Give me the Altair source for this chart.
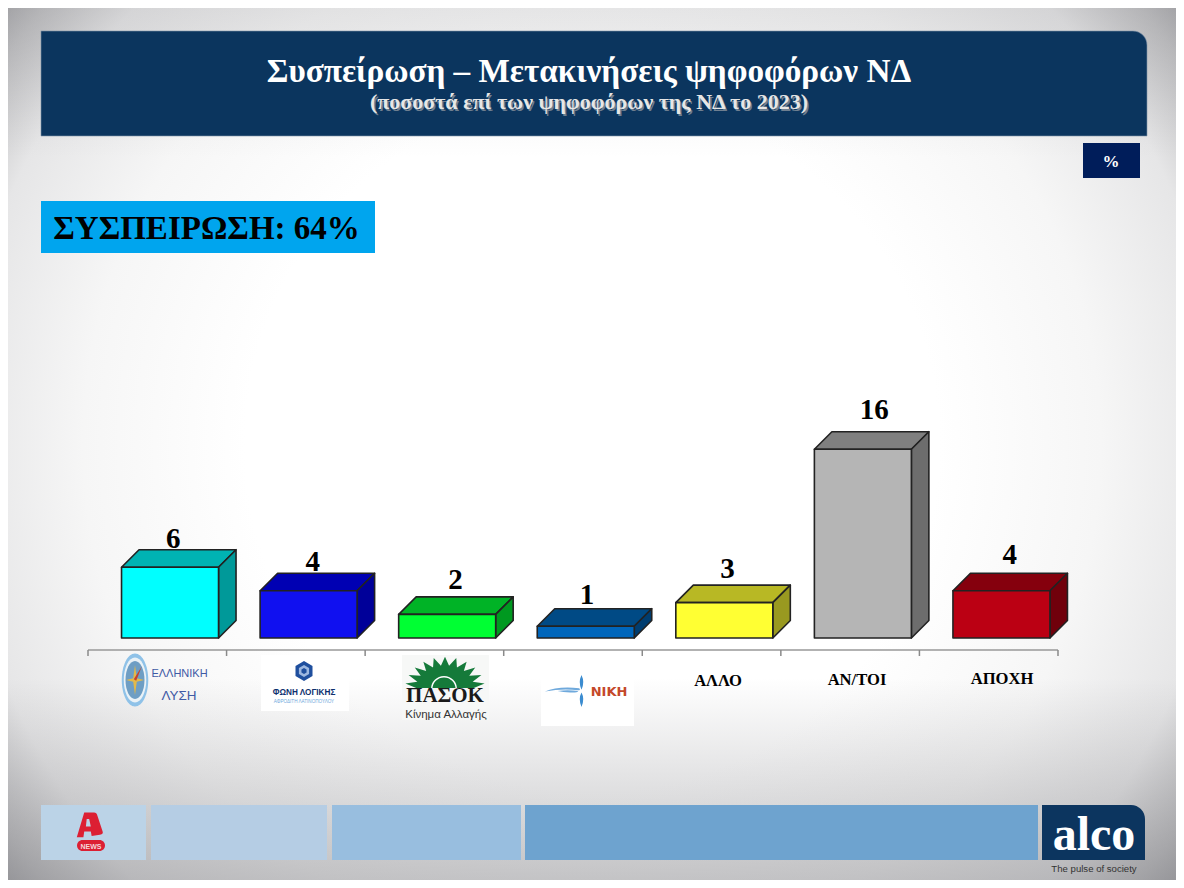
import math
import altair as alt
import pandas as pd

# ---- chart values -----------------------------------------------------
categories = ["ΕΛΛΗΝΙΚΗ ΛΥΣΗ", "ΦΩΝΗ ΛΟΓΙΚΗΣ", "ΠΑΣΟΚ", "ΝΙΚΗ", "ΑΛΛΟ", "ΑΝ/ΤΟΙ", "ΑΠΟΧΗ"]
values = [6, 4, 2, 1, 3, 16, 4]
front_colors = ["#00FFFF", "#1010F0", "#00FF33", "#0066BB", "#FFFF33", "#B5B5B5", "#BB0013"]
top_colors = ["#00B3B3", "#0000B3", "#00B326", "#004A85", "#B8B824", "#7F7F7F", "#85000D"]
side_colors = ["#009999", "#000099", "#009920", "#003D70", "#999920", "#6D6D6D", "#70000B"]
title_text = "Συσπείρωση – Μετακινήσεις ψηφοφόρων ΝΔ"
subtitle_text = "(ποσοστά επί των ψηφοφόρων της ΝΔ το 2023)"
cohesion_text = "ΣΥΣΠΕΙΡΩΣΗ: 64%"

# ---- layout helpers ----------------------------------------------------
W, H = 1168, 872
SLOT = 138.57      # px per category
UNIT = 11.8        # px per percentage point
X0 = 88 - 8        # axis start in chart px
Y0 = 638 - 8       # bar baseline in chart px
BAR_L, BAR_W = 0.242, 0.70
DX, DV = 17.5 / SLOT, 17.5 / UNIT

xscale = alt.Scale(domain=[-X0 / SLOT, (W - X0) / SLOT], range=[0, W], nice=False, zero=False)
yscale = alt.Scale(domain=[(Y0 - H) / UNIT, Y0 / UNIT], range=[H, 0], nice=False, zero=False)
X = lambda f, **k: alt.X(f, type="quantitative", scale=xscale, axis=None, **k)
Y = lambda f, **k: alt.Y(f, type="quantitative", scale=yscale, axis=None, stack=None, **k)

ONE = alt.Data(values=[{"a": 1}])


def box(x1, x2, y1, y2, fill, **mk):
    return alt.Chart(ONE).mark_rect(fill=fill, **mk).encode(
        x=alt.value(x1 - 8), x2=alt.value(x2 - 8), y=alt.value(y1 - 8), y2=alt.value(y2 - 8))


def label(text, x, y, size, color="#000000", font="Liberation Serif", weight="bold", **mk):
    return alt.Chart(ONE).mark_text(text=text, font=font, fontSize=size, fontWeight=weight,
                                    color=color, align=mk.pop("align", "center"),
                                    baseline="alphabetic", **mk).encode(
        x=alt.value(x - 8), y=alt.value(y - 8))


def glyph(path, x, y, d, fill, **mk):
    return alt.Chart(ONE).mark_point(shape=path, size=d * d, filled=True, fill=fill, opacity=1,
                                     strokeWidth=0, **mk).encode(
        x=alt.value(x - 8), y=alt.value(y - 8))


# ---- background ---------------------------------------------------------
bg = alt.Chart(ONE).mark_rect(fill=alt.RadialGradient(
    gradient="radial", x1=0.5, y1=0.5, r1=0.0, x2=0.5, y2=0.5, r2=0.66,
    stops=[alt.GradientStop(color="#FFFFFF", offset=0.0),
           alt.GradientStop(color="#FFFFFF", offset=0.45),
           alt.GradientStop(color="#F6F6F6", offset=0.66),
           alt.GradientStop(color="#E6E6E7", offset=0.82),
           alt.GradientStop(color="#C0C0C2", offset=0.91),
           alt.GradientStop(color="#8E8E92", offset=1.0)])).encode(
    x=alt.value(0), x2=alt.value(W), y=alt.value(0), y2=alt.value(H))
bg_bottom = alt.Chart(ONE).mark_rect(fill=alt.LinearGradient(
    gradient="linear", x1=0, y1=0, x2=0, y2=1,
    stops=[alt.GradientStop(color="rgba(120,120,125,0)", offset=0.0),
           alt.GradientStop(color="rgba(120,120,125,0.42)", offset=1.0)])).encode(
    x=alt.value(0), x2=alt.value(W), y=alt.value(670), y2=alt.value(H))
bg_top = alt.Chart(ONE).mark_rect(fill=alt.LinearGradient(
    gradient="linear", x1=0, y1=0, x2=0, y2=1,
    stops=[alt.GradientStop(color="rgba(120,120,125,0.16)", offset=0.0),
           alt.GradientStop(color="rgba(120,120,125,0)", offset=1.0)])).encode(
    x=alt.value(0), x2=alt.value(W), y=alt.value(0), y2=alt.value(150))

# ---- header and boxes ---------------------------------------------------
header = box(41, 1147, 31, 136, "#0B355E", cornerRadiusTopRight=14, stroke="#7F93AA", strokeWidth=0.6)
title = label(title_text, 589, 82, 33.2, "#FFFFFF")
sub_shadow = label(subtitle_text, 590.5, 110.5, 22, "#6F7F90")
sub = label(subtitle_text, 589, 109, 22, "#E6E6E6")
pct_box = box(1083, 1140, 143, 178, "#001D5A")
pct = label("%", 1111, 167, 17, "#FFFFFF")
coh_box = box(41, 375, 201, 253, "#00A5EE")
coh = label(cohesion_text, 206.5, 239, 33, "#000000")

# ---- 3D bars ------------------------------------------------------------
rows_front, rows_side, rows_top = [], [], []
for i, (c, v) in enumerate(zip(categories, values)):
    l, r = i + BAR_L, i + BAR_L + BAR_W
    rows_front.append({"c": c, "l": l, "r": r, "v": v, "b": 0, "fill": front_colors[i]})
    rows_side += [{"c": c, "x": r, "v": v, "b": 0, "fill": side_colors[i]},
                  {"c": c, "x": r + DX, "v": v + DV, "b": DV, "fill": side_colors[i]}]
    rows_top += [{"c": c, "v": v, "l": l, "r": r, "fill": top_colors[i]},
                 {"c": c, "v": v + DV, "l": l + DX, "r": r + DX, "fill": top_colors[i]}]

EDGE = dict(stroke="#222222", strokeWidth=1.6, strokeJoin="round")
tops = alt.Chart(pd.DataFrame(rows_top)).mark_area(orient="horizontal", opacity=1, **EDGE).encode(
    y=Y("v"), x=X("l"), x2="r", detail="c:N", color=alt.Color("fill:N", scale=None))
sides = alt.Chart(pd.DataFrame(rows_side)).mark_area(opacity=1, **EDGE).encode(
    x=X("x"), y=Y("v"), y2="b", detail="c:N", color=alt.Color("fill:N", scale=None))
fronts = alt.Chart(pd.DataFrame(rows_front)).mark_rect(**EDGE).encode(
    x=X("l"), x2="r", y=Y("v"), y2="b", color=alt.Color("fill:N", scale=None))

# value labels: nudges from the slot centre, in px (right, gap above the top face)
nudge_x = [16, 17, 21, 14, 16, 24, 21]
nudge_y = [2, 2, 8, 5, 7, 13, 9]
lab_df = pd.DataFrame({
    "x": [i + 0.5 + n / SLOT for i, n in enumerate(nudge_x)],
    "y": [v + DV + n / UNIT for v, n in zip(values, nudge_y)],
    "t": [str(v) for v in values]})
value_labels = alt.Chart(lab_df).mark_text(font="Liberation Serif", fontWeight="bold", fontSize=29,
                                           baseline="alphabetic", color="#000000").encode(
    x=X("x"), y=Y("y"), text="t:N")

# ---- category axis ------------------------------------------------------
axis_v = -12 / UNIT
tick_v = -18 / UNIT
ax_line = alt.Chart(pd.DataFrame({"a": [0], "b": [len(categories)], "v": [axis_v]})).mark_rule(
    color="#999999", strokeWidth=1.5).encode(x=X("a"), x2="b", y=Y("v"))
ax_ticks = alt.Chart(pd.DataFrame({"a": list(range(len(categories) + 1)), "v": axis_v, "w": tick_v})).mark_rule(
    color="#8A8A8A", strokeWidth=1.5).encode(x=X("a"), y=Y("v"), y2="w")
cat_a = label(categories[4], 718, 686, 16.6)
cat_b = label(categories[5], 857, 685, 16.6)
cat_c = label(categories[6], 1002, 684, 16.6)

# ---- logos --------------------------------------------------------------
ELLIPSE = "M-0.5,0 A0.5,1 0 1 1 0.5,0 A0.5,1 0 1 1 -0.5,0 Z"
STAR = "M0,-1 L0.12,-0.12 L0.6,0 L0.12,0.12 L0,1 L-0.12,0.12 L-0.6,0 L-0.12,-0.12 Z"
NEEDLE = "M0.45,-0.9 L0.08,0.05 L-0.08,-0.05 Z"
lysi = [glyph(ELLIPSE, 135, 680, 53, "#8FC2E8"),
        glyph(ELLIPSE, 135, 680, 45, "#EAF2F7"),
        glyph(ELLIPSE, 135, 680, 38, "#6E9EC4"),
        glyph(STAR, 135, 680, 30, "#E2B94A"),
        glyph(NEEDLE, 135, 680, 30, "#C8402E"),
        label("ΕΛΛΗΝΙΚΗ", 179.5, 677, 11, "#3F5AA5", "Liberation Sans", "normal"),
        label("ΛΥΣΗ", 179, 700, 13.5, "#3F5AA5", "Liberation Sans", "normal")]

HEX = "M0,-1 L0.85,-0.5 L0.85,0.5 L0,1 L-0.85,0.5 L-0.85,-0.5 Z"
foni = [box(261, 349, 655, 711, "#FFFFFF"),
        glyph(HEX, 304, 671, 20, "#1F4F9E"),
        glyph(HEX, 304, 671, 12, "#9DB8E0"),
        glyph(HEX, 304, 671, 6, "#1F4F9E"),
        label("ΦΩΝΗ ΛΟΓΙΚΗΣ", 304, 695, 8.2, "#0E2F6E", "Liberation Sans"),
        label("ΑΦΡΟΔΙΤΗ ΛΑΤΙΝΟΠΟΥΛΟΥ", 304, 703, 4.6, "#6FA8DC", "Liberation Sans", "normal")]

# sunburst emblem drawn as one path: a half disc with pointed rays
pts = []
n_rays = 11
for k in range(2 * n_rays + 1):
    ang = math.pi * k / (2 * n_rays)
    rad = 0.72 if k % 2 == 0 else 1.0
    pts.append(f"{-rad * math.cos(ang):.3f},{-0.78 * rad * math.sin(ang):.3f}")
SUN = "M" + " L".join(pts) + " Z"
pasok = [box(402, 489, 655, 720, "#F6F7F6", opacity=0.9),
         glyph(SUN, 445, 688, 80, "#157A3A"),
         alt.Chart(ONE).mark_arc(theta=4.712, theta2=7.854, radius=13, radius2=11.5, color="#FFFFFF").encode(
             x=alt.value(444 - 8), y=alt.value(689 - 8)),
         box(405, 485, 688, 691, "#F6F7F6"),
         label("ΠΑΣΟΚ", 445, 702, 21, "#1A1A1A"),
         label("Κίνημα Αλλαγής", 446, 717.5, 11.5, "#333333", "Liberation Sans", "normal")]

BLADE_V = "M0,-1 Q0.22,-0.55 0,-0.08 Q-0.22,-0.55 0,-1 Z M0,1 Q0.22,0.5 0,0.1 Q-0.22,0.5 0,1 Z"
BLADE_H = ("M-1,0.08 Q-0.3,-0.22 0.9,-0.1 Q1,0 0.85,0.02 Q0,-0.1 -1,0.08 Z "
           "M-0.3,0.05 Q0.3,-0.02 0.85,0.06 Q0.8,0.16 0.4,0.14 Q0,0.12 -0.3,0.05 Z")
niki = [box(541, 634, 655, 726, "#FFFFFF"),
        glyph(BLADE_V, 581.5, 691, 32, "#3B8CD0"),
        glyph(BLADE_H, 563, 690, 36, "#6FA9DC"),
        label("ΝΙΚΗ", 609, 696, 13, "#C4482A", "DejaVu Sans")]

# ---- footer -------------------------------------------------------------
A_LOGO = ("M-0.35,-1 L0.25,-1 Q0.4,-1 0.45,-0.8 L0.75,0.1 Q0.85,0.3 0.6,0.35 L0.1,0.42 "
          "L0.05,0.15 L-0.35,0.15 L-0.4,0.5 L-0.8,0.5 Z M-0.25,-0.15 L0.05,-0.15 L-0.05,-0.6 L-0.2,-0.6 Z")
footer = [box(41, 146, 805, 860, "#BBD3E7"),
          box(151, 327, 805, 860, "#B5CDE4"),
          box(332, 521, 805, 860, "#98BEDF"),
          box(525, 1038, 805, 860, "#6EA3CF"),
          glyph(A_LOGO, 90, 829, 33, "#DC1F33"),
          box(77, 105, 840, 851, "#DC1F33", cornerRadius=5.5),
          label("NEWS", 91, 848.5, 7, "#F4D6DA", "Liberation Sans"),
          box(1042, 1145, 805, 860, "#0C355F", cornerRadiusTopRight=14),
          label("alco", 1094, 850, 48, "#FFFFFF", "Liberation Serif", "bold"),
          label("The pulse of society", 1094, 872, 9.6, "#333333", "Liberation Sans", "normal")]

layers = ([bg, bg_top, bg_bottom, header, title, sub_shadow, sub, pct_box, pct, coh_box, coh,
           tops, sides, fronts, value_labels, ax_line, ax_ticks, cat_a, cat_b, cat_c]
          + lysi + foni + pasok + niki + footer)

chart = alt.layer(*layers).properties(
    width=W, height=H, padding=0, autosize=alt.AutoSizeParams(type="none"),
    view=alt.ViewConfig(stroke=None)
).resolve_scale(color="independent")

chart.save("out.html", embed_options={"renderer": "svg", "actions": False})
